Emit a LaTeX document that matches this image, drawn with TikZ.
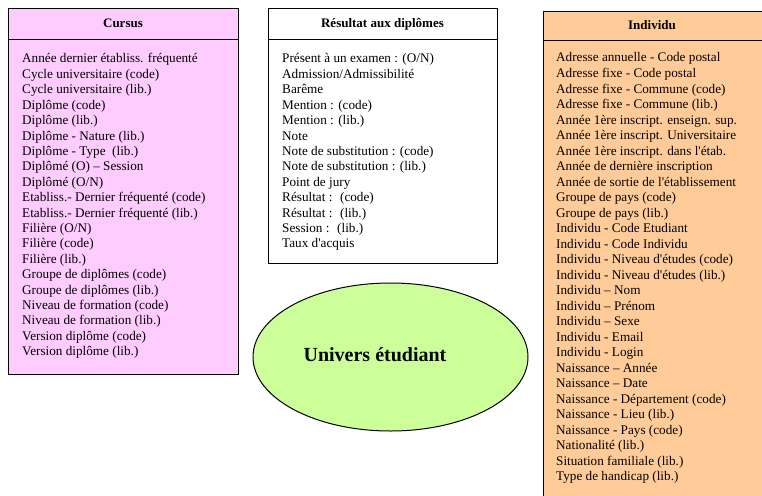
\documentclass[tikz,border=0pt]{standalone}
\usepackage{fontspec}
\setmainfont{Liberation Serif}[Ligatures=TeXOff]
\definecolor{cursuspink}{HTML}{FFCCFF}
\definecolor{indivorange}{HTML}{FFCC99}
\definecolor{universgreen}{HTML}{CCFF99}
\begin{document}
\begin{tikzpicture}[x=1pt, y=-1pt,
  boxline/.style={draw=black, line width=1pt},
  title/.style={anchor=base, font=\fontsize{13}{15}\selectfont\bfseries, inner sep=0pt},
  item/.style={anchor=base west, font=\fontsize{13.2}{15}\selectfont, inner sep=0pt}]
\useasboundingbox (0,0) rectangle (762,495);

% Cursus box
\draw[boxline, fill=cursuspink] (8, 9) rectangle (238, 374);
\draw[boxline] (8, 40) -- (238, 40);
\node[title] (curtitle) at (123, 28) {Cursus};
\node[item] (cur1) at (22, 63.0) {Année dernier établiss. fréquenté};
\node[item] (cur2) at (22, 78.4) {Cycle universitaire (code)};
\node[item] (cur3) at (22, 93.8) {Cycle universitaire (lib.)};
\node[item] (cur4) at (22, 109.2) {Diplôme (code)};
\node[item] (cur5) at (22, 124.6) {Diplôme (lib.)};
\node[item] (cur6) at (22, 140.0) {Diplôme - Nature (lib.)};
\node[item] (cur7) at (22, 155.4) {Diplôme - Type~ (lib.)};
\node[item] (cur8) at (22, 170.8) {Diplômé (O) – Session};
\node[item] (cur9) at (22, 186.2) {Diplômé (O/N)};
\node[item] (cur10) at (22, 201.6) {Etabliss.- Dernier fréquenté (code)};
\node[item] (cur11) at (22, 217.0) {Etabliss.- Dernier fréquenté (lib.)};
\node[item] (cur12) at (22, 232.4) {Filière (O/N)};
\node[item] (cur13) at (22, 247.8) {Filière (code)};
\node[item] (cur14) at (22, 263.2) {Filière (lib.)};
\node[item] (cur15) at (22, 278.6) {Groupe de diplômes (code)};
\node[item] (cur16) at (22, 294.0) {Groupe de diplômes (lib.)};
\node[item] (cur17) at (22, 309.4) {Niveau de formation (code)};
\node[item] (cur18) at (22, 324.8) {Niveau de formation (lib.)};
\node[item] (cur19) at (22, 340.2) {Version diplôme (code)};
\node[item] (cur20) at (22, 355.6) {Version diplôme (lib.)};

% Resultat aux diplomes box
\draw[boxline, fill=white] (268, 9) rectangle (497, 263);
\draw[boxline] (268, 40) -- (497, 40);
\node[title] (restitle) at (382.5, 28) {Résultat aux diplômes};
\node[item] (res1) at (282, 63.0) {Présent à un examen : (O/N)};
\node[item] (res2) at (282, 78.4) {Admission/Admissibilité};
\node[item] (res3) at (282, 93.8) {Barême};
\node[item] (res4) at (282, 109.2) {Mention : (code)};
\node[item] (res5) at (282, 124.6) {Mention : (lib.)};
\node[item] (res6) at (282, 140.0) {Note};
\node[item] (res7) at (282, 155.4) {Note de substitution : (code)};
\node[item] (res8) at (282, 170.8) {Note de substitution : (lib.)};
\node[item] (res9) at (282, 186.2) {Point de jury};
\node[item] (res10) at (282, 201.6) {Résultat :~ (code)};
\node[item] (res11) at (282, 217.0) {Résultat :~ (lib.)};
\node[item] (res12) at (282, 232.4) {Session :~ (lib.)};
\node[item] (res13) at (282, 247.8) {Taux d'acquis};

% Individu box
\draw[boxline, fill=indivorange] (543, 12) rectangle (762, 500);
\draw[boxline] (543, 41) -- (762, 41);
\node[title] (indtitle) at (652, 30) {Individu};
\node[item] (ind1) at (556, 62.0) {Adresse annuelle - Code postal};
\node[item] (ind2) at (556, 77.5) {Adresse fixe - Code postal};
\node[item] (ind3) at (556, 93.0) {Adresse fixe - Commune (code)};
\node[item] (ind4) at (556, 108.5) {Adresse fixe - Commune (lib.)};
\node[item] (ind5) at (556, 124.0) {Année 1ère inscript. enseign. sup.};
\node[item] (ind6) at (556, 139.5) {Année 1ère inscript. Universitaire};
\node[item] (ind7) at (556, 155.0) {Année 1ère inscript. dans l'étab.};
\node[item] (ind8) at (556, 170.5) {Année de dernière inscription};
\node[item] (ind9) at (556, 186.0) {Année de sortie de l'établissement};
\node[item] (ind10) at (556, 201.5) {Groupe de pays (code)};
\node[item] (ind11) at (556, 217.0) {Groupe de pays (lib.)};
\node[item] (ind12) at (556, 232.5) {Individu - Code Etudiant};
\node[item] (ind13) at (556, 248.0) {Individu - Code Individu};
\node[item] (ind14) at (556, 263.5) {Individu - Niveau d'études (code)};
\node[item] (ind15) at (556, 279.0) {Individu - Niveau d'études (lib.)};
\node[item] (ind16) at (556, 294.5) {Individu – Nom};
\node[item] (ind17) at (556, 310.0) {Individu – Prénom};
\node[item] (ind18) at (556, 325.5) {Individu – Sexe};
\node[item] (ind19) at (556, 341.0) {Individu - Email};
\node[item] (ind20) at (556, 356.5) {Individu - Login};
\node[item] (ind21) at (556, 372.0) {Naissance – Année};
\node[item] (ind22) at (556, 387.5) {Naissance – Date};
\node[item] (ind23) at (556, 403.0) {Naissance - Département (code)};
\node[item] (ind24) at (556, 418.5) {Naissance - Lieu (lib.)};
\node[item] (ind25) at (556, 434.0) {Naissance - Pays (code)};
\node[item] (ind26) at (556, 449.5) {Nationalité (lib.)};
\node[item] (ind27) at (556, 465.0) {Situation familiale (lib.)};
\node[item] (ind28) at (556, 480.5) {Type de handicap (lib.)};

% Univers etudiant
\draw[line width=1pt, fill=universgreen] (390.5, 357) ellipse (137.5 and 74);
\node[anchor=base, font=\fontsize{20}{24}\selectfont\bfseries, inner sep=0pt] (univ) at (375, 361) {Univers étudiant};
\end{tikzpicture}
\end{document}
